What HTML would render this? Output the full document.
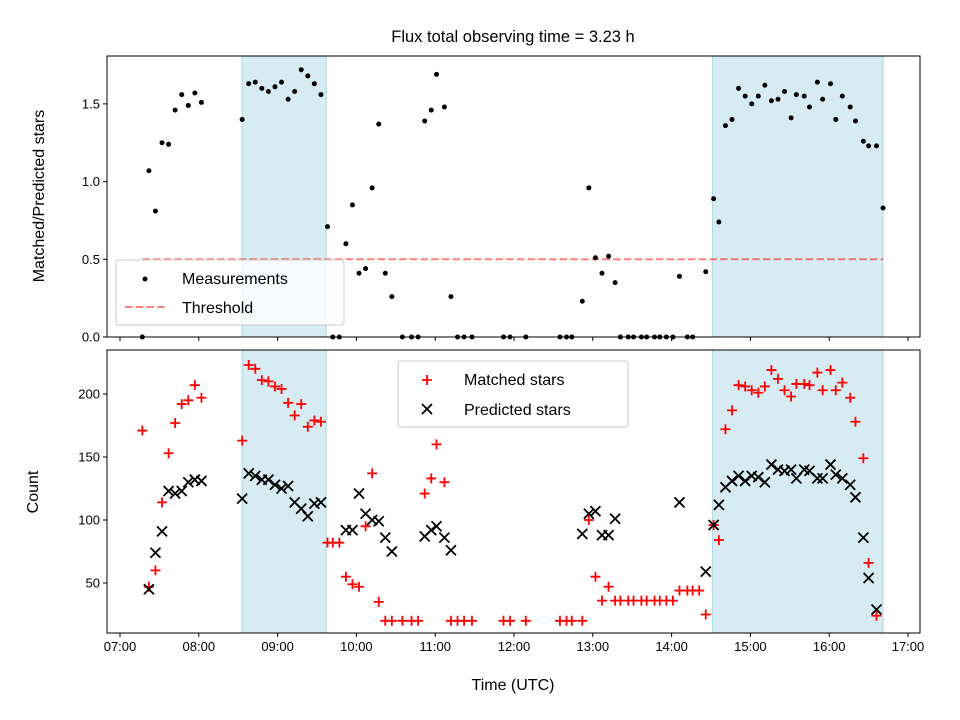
<!DOCTYPE html>
<html><head><meta charset="utf-8"><style>
body{margin:0;background:#fff}
svg{display:block;font-family:"Liberation Sans","DejaVu Sans",sans-serif}
</style></head><body>
<svg id="c" width="960" height="720" viewBox="0 0 960 720" xmlns="http://www.w3.org/2000/svg"></svg>
<script>
// Times are minutes after 07:00 UTC
const ratioTimes=[17,22,27,32,37,42,47,52,57,62,93,98,103,108,113,118,123,128,133,138,143,148,153,158,162,167,172,177,182,187,192,197,202,207,215,222,227,232,237,241,247,252,257,262,268,292,297,309,335,340,344,352,357,362,367,372,377,381,387,391,397,401,407,411,416,421,426,432,436,446,452,456,461,466,471,476,481,486,491,496,501,506,511,515,521,525,531,535,541,545,550,556,560,566,570,576,581];
const ratioValues=[0,1.07,0.81,1.25,1.24,1.46,1.56,1.49,1.57,1.51,1.40,1.63,1.64,1.60,1.58,1.61,1.64,1.53,1.58,1.72,1.68,1.63,1.56,0.71,0,0,0.60,0.85,0.41,0.44,0.96,1.37,0.41,0.26,0,0,0,1.39,1.46,1.69,1.48,0.26,0,0,0,0,0,0,0,0,0,0.23,0.96,0.51,0.41,0.52,0.35,0,0,0,0,0,0,0,0,0,0.39,0,0,0.42,0.89,0.74,1.36,1.40,1.60,1.55,1.50,1.55,1.62,1.52,1.53,1.58,1.41,1.56,1.55,1.48,1.64,1.53,1.63,1.40,1.55,1.48,1.39,1.26,1.23,1.23,0.83];
const threshold=0.5;
const thresholdRange=[17,581];
const matchedTimes=[17,22,27,32,37,42,47,52,57,62,93,98,103,108,113,118,123,128,133,138,143,148,153,158,162,167,172,177,182,187,192,197,202,207,215,222,227,232,237,241,247,252,257,262,268,292,297,309,335,340,344,352,357,362,367,372,377,381,387,391,397,401,407,411,416,421,426,432,436,441,446,452,456,461,466,471,476,481,486,491,496,501,506,511,515,521,525,531,535,541,545,550,556,560,566,570,576];
const matchedValues=[171,47,60,114,153,177,192,195,207,197,163,223,220,211,210,206,204,193,183,192,174,179,178,82,82,82,55,49,47,95,137,35,20,20,20,20,20,121,133,160,130,20,20,20,20,20,20,20,20,20,20,20,100,55,36,47,36,36,36,36,36,36,36,36,36,36,44,44,44,44,25,96,84,172,187,207,206,203,201,206,219,212,203,198,208,208,207,217,203,219,203,209,197,178,149,66,24];
const predTimes=[22,27,32,37,42,47,52,57,62,93,98,103,108,113,118,123,128,133,138,143,148,153,172,177,182,187,192,197,202,207,232,237,241,247,252,352,357,362,367,372,377,426,446,452,456,461,466,471,476,481,486,491,496,501,506,511,515,521,525,531,535,541,545,550,556,560,566,570,576];
const predValues=[45,74,91,123,121,123,130,132,131,117,137,135,132,132,128,125,127,114,109,103,113,114,92,92,121,105,100,99,86,75,87,92,95,86,76,89,105,107,88,88,101,114,59,96,112,126,131,135,131,135,134,130,144,140,139,140,133,140,139,133,133,144,136,133,128,118,86,54,29];
const spans=[[93,157],[451,581]];
const xTicks=["07:00","08:00","09:00","10:00","11:00","12:00","13:00","14:00","15:00","16:00","17:00"];
const topTicks=[0,0.5,1.0,1.5];
const botTicks=[50,100,150,200];

const NS="http://www.w3.org/2000/svg",svg=document.getElementById('c');
function mk(t,a,p){const e=document.createElementNS(NS,t);for(const k in a)e.setAttribute(k,a[k]);(p||svg).appendChild(e);return e;}
const X=m=>120+m/60*78.8;
const YT=v=>337-v*155.4;
const YB=c=>394+(200-c)*1.26;
const T={l:107,r:920,t:56,b:337}, B={l:107,r:920,t:350,b:633};

function panel(P,name){
  const g=mk('g',{});
  
  
  spans.forEach((s,i)=>{const r=mk('rect',{x:X(s[0]),y:P.t,width:X(s[1])-X(s[0]),height:P.b-P.t,fill:'#add8e6','fill-opacity':0.5,stroke:'#add8e6','stroke-width':1},g);
    
    });
  return g;
}
function frame(P,name){const r=mk('rect',{x:P.l,y:P.t,width:P.r-P.l,height:P.b-P.t,fill:'none',stroke:'#000','stroke-width':1});
  
  }
function xticks(P,labels){xTicks.forEach((lab,i)=>{const x=X(i*60);mk('line',{x1:x,x2:x,y1:P.b,y2:P.b+4,stroke:'#000'});
  if(labels){const t=mk('text',{x:x,y:P.b+18,'text-anchor':'middle','font-size':13});t.textContent=lab;
    
    }});}
function yticks(P,ticks,Y,fmt){ticks.forEach(v=>{const y=Y(v);mk('line',{x1:P.l-4,x2:P.l,y1:y,y2:y,stroke:'#000'});
  const t=mk('text',{x:P.l-7,y:y+4.5,'text-anchor':'end','font-size':13});t.textContent=fmt(v);
  
  });}

const title=mk('text',{x:513,y:42,'text-anchor':'middle','font-size':16.5});title.textContent='Flux total observing time = 3.23 h';



const gT=panel(T,'ratio-panel');
const thr=mk('line',{x1:X(thresholdRange[0]),x2:X(thresholdRange[1]),y1:YT(threshold),y2:YT(threshold),stroke:'#ff0000','stroke-opacity':0.5,'stroke-width':2,'stroke-dasharray':'7.5,3.2'});


ratioTimes.forEach((m,i)=>{const c=mk('circle',{cx:X(m),cy:YT(ratioValues[i]),r:2.5,fill:'#000'});
  
  });
frame(T,'ratio-axes');xticks(T,false);yticks(T,topTicks,YT,v=>v.toFixed(1));
const lg1=mk('g',{});


mk('rect',{x:116,y:260,width:228,height:65,rx:3,fill:'#fff','fill-opacity':0.8,stroke:'#ccc'},lg1);
mk('circle',{cx:145,cy:279,r:2.5,fill:'#000'},lg1);
let t=mk('text',{x:182,y:284,'font-size':16},lg1);t.textContent='Measurements';
mk('line',{x1:125,x2:165,y1:307,y2:307,stroke:'#ff0000','stroke-opacity':0.5,'stroke-width':2,'stroke-dasharray':'7.5,3.2'},lg1);
t=mk('text',{x:182,y:313,'font-size':16},lg1);t.textContent='Threshold';
t=mk('text',{transform:'translate(44,196) rotate(-90)','text-anchor':'middle','font-size':16});t.textContent='Matched/Predicted stars';



const gB=panel(B,'count-panel');
function cross(x,y){return mk('path',{d:`M${x-5} ${y-5}L${x+5} ${y+5}M${x-5} ${y+5}L${x+5} ${y-5}`,stroke:'#000','stroke-width':1.8,fill:'none'});}
matchedTimes.forEach((m,i)=>{const x=X(m),y=YB(matchedValues[i]);const p=mk('path',{d:`M${x-5} ${y}H${x+5}M${x} ${y-5}V${y+5}`,stroke:'#f00','stroke-width':1.8,fill:'none'});
  
  });
predTimes.forEach((m,i)=>{const p=cross(X(m),YB(predValues[i]));
  
  });
frame(B,'count-axes');xticks(B,true);yticks(B,botTicks,YB,v=>String(v));
const lg2=mk('g',{});


mk('rect',{x:398,y:361,width:230,height:66,rx:3,fill:'#fff','fill-opacity':0.8,stroke:'#ccc'},lg2);
mk('path',{d:'M422 380H432M427 375V385',stroke:'#f00','stroke-width':1.8},lg2);
t=mk('text',{x:464,y:385,'font-size':16},lg2);t.textContent='Matched stars';
mk('path',{d:'M422 404L432 414M422 414L432 404',stroke:'#000','stroke-width':1.8},lg2);
t=mk('text',{x:464,y:415,'font-size':16},lg2);t.textContent='Predicted stars';
t=mk('text',{transform:'translate(38,492) rotate(-90)','text-anchor':'middle','font-size':16});t.textContent='Count';


t=mk('text',{x:513,y:690,'text-anchor':'middle','font-size':16});t.textContent='Time (UTC)';


</script>
</body></html>
